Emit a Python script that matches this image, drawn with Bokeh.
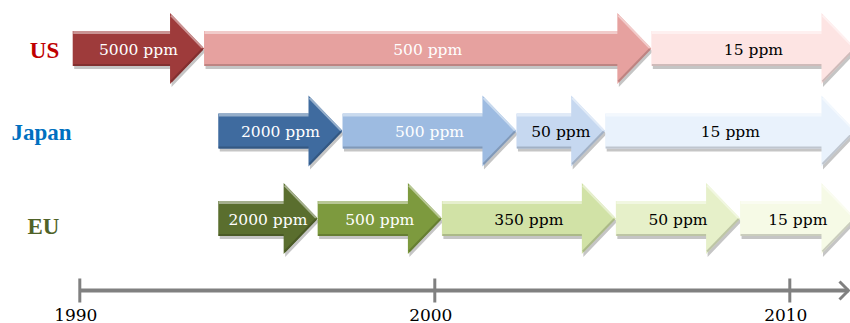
from bokeh.plotting import figure
from bokeh.models import Range1d, ColumnDataSource
from bokeh.core.properties import value
from bokeh.embed import file_html
from bokeh.resources import INLINE

# ---------------- data ----------------
regions = ["US", "Japan", "EU"]

us_labels = ["5000 ppm", "500 ppm", "15 ppm"]
us_starts = [1989.8, 1993.5, 2006.1]

jp_labels = ["2000 ppm", "500 ppm", "50 ppm", "15 ppm"]
jp_starts = [1993.9, 1997.4, 2002.3, 2004.8]

eu_labels = ["2000 ppm", "500 ppm", "350 ppm", "50 ppm", "15 ppm"]
eu_starts = [1993.9, 1996.7, 2000.2, 2005.1, 2008.6]

end_year = 2011.85

tick_years = [1990, 2000, 2010]
tick_labels = ["1990", "2000", "2010"]

# ---------------- styles ----------------
region_colors = ["#C00000", "#0070C0", "#4F6228"]
us_colors = ["#9E3B3B", "#E6A19F", "#FDE4E3"]
jp_colors = ["#3F6B9F", "#9DBBE1", "#C6D8F0", "#E9F2FC"]
eu_colors = ["#5A6E2E", "#7D9A3E", "#D1E2A6", "#E6F0C9", "#F6FAE6"]
us_text = ["#FFFFFF", "#FFFFFF", "#000000"]
jp_text = ["#FFFFFF", "#FFFFFF", "#000000", "#000000"]
eu_text = ["#FFFFFF", "#FFFFFF", "#000000", "#000000", "#000000"]

W, H = 850, 323
PPY = 35.5                      # pixels per year
X0 = 1990 - 79.3 / PPY          # year at left edge
row_y = [48, 130.5, 218]        # row centres (pixels from top)
label_px = [(44, 50), (41, 132), (43, 226)]
BH, HH, HEAD = 17.5, 35.5, 34.0
AXIS_Y = 290


def px2yr(px):
    return X0 + px / PPY


def mix(c, other, f):
    c = c.lstrip("#")
    r, g, b = int(c[0:2], 16), int(c[2:4], 16), int(c[4:6], 16)
    r = round(r + (other[0] - r) * f)
    g = round(g + (other[1] - g) * f)
    b = round(b + (other[2] - b) * f)
    return "#%02x%02x%02x" % (r, g, b)


p = figure(width=W, height=H, x_range=Range1d(X0, X0 + W / PPY),
           y_range=Range1d(H, 0), output_backend="svg", toolbar_location=None,
           x_axis_type=None, y_axis_type=None, min_border=0)
p.grid.visible = False
p.outline_line_color = None
p.background_fill_color = "white"
p.border_fill_color = "white"

rows = [(us_labels, us_starts, us_colors, us_text),
        (jp_labels, jp_starts, jp_colors, jp_text),
        (eu_labels, eu_starts, eu_colors, eu_text)]

sh_xs, sh_ys = [], []
ar_xs, ar_ys, ar_c = [], [], []
hl_xs, hl_ys, hl_c, hl_w = [], [], [], []
tx, ty, tt, tc = [], [], [], []

hl = HEAD / PPY
for (labels, starts, colors, tcols), yc in zip(rows, row_y):
    ends = starts[1:] + [end_year]
    for lab, s, e, col, tcol in zip(labels, starts, ends, colors, tcols):
        b = e - hl
        xs = [s, b, b, e, b, b, s]
        ys = [yc - BH, yc - BH, yc - HH, yc, yc + HH, yc + BH, yc + BH]
        dx = 1.5 / PPY
        sh_xs.append([x + dx for x in xs])
        sh_ys.append([y + 3 for y in ys])
        ar_xs.append(xs)
        ar_ys.append(ys)
        ar_c.append(col)
        light = mix(col, (255, 255, 255), 0.45)
        dark = mix(col, (0, 0, 0), 0.18)
        # top highlight of body
        hl_xs.append([s + 0.5 / PPY, b])
        hl_ys.append([yc - BH + 1.5, yc - BH + 1.5])
        hl_c.append(light)
        hl_w.append(3)
        # upper head edge highlight
        hl_xs.append([b + 1 / PPY, e - 1.5 / PPY])
        hl_ys.append([yc - HH + 2.5, yc - 0.5])
        hl_c.append(light)
        hl_w.append(2)
        # bottom dark edge
        hl_xs.append([s + 0.5 / PPY, b])
        hl_ys.append([yc + BH - 1, yc + BH - 1])
        hl_c.append(dark)
        hl_w.append(2)
        # lower head edge dark
        hl_xs.append([e - 1.5 / PPY, b + 1 / PPY])
        hl_ys.append([yc + 0.5, yc + HH - 2.5])
        hl_c.append(dark)
        hl_w.append(2)
        tx.append((s + e) / 2)
        ty.append(yc + 1)
        tt.append(lab)
        tc.append(tcol)

p.patches(sh_xs, sh_ys, fill_color="#7f7f7f", fill_alpha=0.45, line_color=None)
p.patches(xs="xs", ys="ys", fill_color="c", line_color=None,
          source=ColumnDataSource(dict(xs=ar_xs, ys=ar_ys, c=ar_c)))
p.multi_line(xs="xs", ys="ys", line_color="c", line_width="w",
             source=ColumnDataSource(dict(xs=hl_xs, ys=hl_ys, c=hl_c, w=hl_w)))

p.text(x="x", y="y", text="t", text_color="c",
       source=ColumnDataSource(dict(x=tx, y=ty, t=tt, c=tc)),
       text_font=value("DejaVu Serif"), text_font_size="15.5px",
       text_align="center", text_baseline="middle")

# region labels
p.text(x=[px2yr(lp[0]) for lp in label_px], y=[lp[1] for lp in label_px],
       text=regions, text_color=region_colors,
       text_font=value("Liberation Serif"), text_font_style="bold",
       text_font_size="23px", text_align="center", text_baseline="middle")

# timeline axis
axis_end = px2yr(W - 2)
axis_col = "#808080"
p.segment(x0=[tick_years[0]], y0=[AXIS_Y], x1=[axis_end], y1=[AXIS_Y],
          line_color=axis_col, line_width=4)
p.segment(x0=tick_years, y0=[AXIS_Y - 12] * 3, x1=tick_years, y1=[AXIS_Y + 12] * 3,
          line_color=axis_col, line_width=3)
p.line(x=[axis_end - 9 / PPY, axis_end, axis_end - 9 / PPY],
       y=[AXIS_Y - 9, AXIS_Y, AXIS_Y + 9], line_color=axis_col, line_width=3,
       line_join="miter")
p.text(x=[t - 4 / PPY for t in tick_years], y=[AXIS_Y + 24] * 3, text=tick_labels,
       text_font=value("DejaVu Serif"), text_font_size="17px",
       text_color="#000000", text_align="center", text_baseline="middle")

open("out.html", "w").write(file_html(p, INLINE))
